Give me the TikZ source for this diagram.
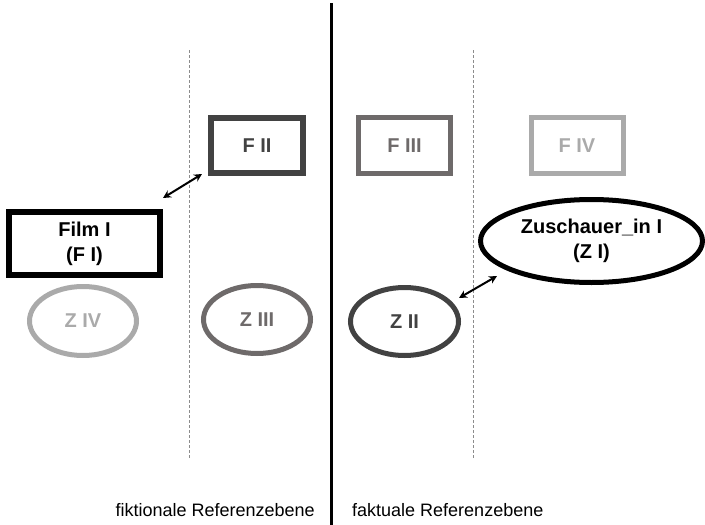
\documentclass[tikz,border=0pt]{standalone}
\usepackage{fontspec}
\setmainfont{Liberation Sans}
\usetikzlibrary{shapes.geometric,arrows.meta}
\definecolor{dk}{HTML}{424242}
\definecolor{md}{HTML}{6E6A6A}
\definecolor{lt}{HTML}{AAAAAA}
\tikzset{
  lbl/.style={font=\bfseries\fontsize{20}{25}\selectfont, align=center, inner sep=0pt},
  boxF/.style={lbl, draw, rectangle, line width=6pt, minimum width=92pt, minimum height=55pt},
  ellZ/.style={lbl, draw, ellipse, line width=5pt, minimum width=107pt, minimum height=68pt},
  sep/.style={draw=gray!90, line width=0.8pt, dash pattern=on 3pt off 2pt},
  dbl/.style={{Stealth[length=8pt,width=8pt]}-{Stealth[length=8pt,width=8pt]}, line width=2pt},
  bottomlbl/.style={font=\fontsize{18}{22}\selectfont, inner sep=0pt}
}
\begin{document}
\begin{tikzpicture}[x=1pt,y=-1pt]
\useasboundingbox (0,0) rectangle (705,525);
% separators
\coordinate (m1) at (331,3);
\coordinate (m2) at (331,525);
\draw[line width=3pt] (m1) -- (m2);
\coordinate (d1a) at (189.5,50);
\coordinate (d1b) at (189.5,458);
\coordinate (d2a) at (473.5,50);
\coordinate (d2b) at (473.5,458);
\draw[sep] (d1a) -- (d1b);
\draw[sep] (d2a) -- (d2b);
% boxes
\node[boxF, minimum width=151pt, minimum height=63pt] (FI) at (84.5,243.5) {Film I\\(F I)};
\node[boxF, draw=dk, text=dk] (FII) at (257,145.5) {F II};
\node[boxF, draw=md, text=md, line width=5pt, minimum height=56pt] (FIII) at (404.5,145.5) {F III};
\node[boxF, draw=lt, text=lt, line width=5pt, minimum height=56pt] (FIV) at (577,145.5) {F IV};
% ellipses
\node[ellZ, minimum width=222pt, minimum height=83pt] (ZI) at (591.5,241) {Zuschauer\_in I\\(Z I)};
\node[ellZ, draw=dk, text=dk, minimum width=108pt] (ZII) at (404.5,321.5) {Z II};
\node[ellZ, draw=md, text=md] (ZIII) at (257,319.5) {Z III};
\node[ellZ, draw=lt, text=lt, minimum height=69pt] (ZIV) at (83,321) {Z IV};
% arrows
\draw[dbl] ([shift={(0,-11)}]FI.north east) -- ([shift={(-6,-2)}]FII.south west);
\draw[dbl] ([shift={(-2,-23.5)}]ZII.east) -- ([shift={(19,35)}]ZI.west);
% bottom labels
\node[bottomlbl, anchor=base east] (lf) at (315,516) {fiktionale Referenzebene};
\node[bottomlbl, anchor=base west] (lr) at (352,516) {faktuale Referenzebene};
\end{tikzpicture}
\end{document}
